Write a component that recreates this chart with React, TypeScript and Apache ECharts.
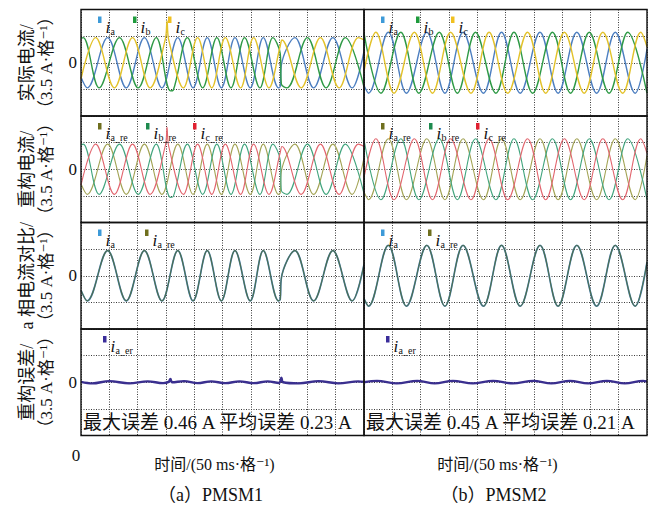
import React, { useEffect, useRef } from "react";
import * as echarts from "echarts";

// ---------------- data (time in ms, current in A) ----------------
const TIME_RANGE_MS = [0, 500];
const TIME_STEP_MS = 50;
const CURRENT_RANGE_A = [-7, 7];
const CURRENT_STEP_A = 3.5;

const rowTitles = ["实际电流/", "重构电流/", "a 相电流对比/", "重构误差/"];
const rowUnit = "（3.5 A·格⁻¹）";
const zeroLabel = "0";
const timeAxisName = "时间/(50 ms·格⁻¹)";
const panelCaptions = ["（a）PMSM1", "（b）PMSM2"];
const errorNotes = ["最大误差 0.46 A 平均误差 0.23 A", "最大误差 0.45 A 平均误差 0.21 A"];

// PMSM1 phase currents (extrema)
const pmsm1Ia = [[0, -1.9], [11, -3.3], [47, 3.3], [80, -3.3], [112, 3.3], [143, -3.3], [171, 3.3], [198, -3.3], [223, 3.3], [248, -3.3], [272, 3.3], [299, -3.3], [322, 3.3], [349, -3.3], [352, -3.1], [354, -0.3], [378, 3.3], [411, -3.3], [445, 3.3], [479, -3.3], [500, 1.5]];
const pmsm1Ib = [[0, 3.2], [4, 3.3], [32, -3.3], [68, 3.3], [101, -3.3], [133, 3.3], [158, -3.7], [163, -3.6], [188, 3.3], [215, -3.3], [240, 3.3], [265, -3.3], [289, 3.3], [316, -3.3], [339, 3.3], [352, 1.2], [354, -2.8], [364, -3.3], [400, 3.3], [433, -3.3], [467, 3.3], [500, -3.2]];
const pmsm1Ic = [[0, -2.1], [26, 3.3], [59, -3.3], [91, 3.3], [122, -3.3], [149, 3.1], [152, 5.5], [155, 3.0], [181, -3.3], [206, 3.3], [231, -3.3], [255, 3.3], [282, -3.3], [305, 3.3], [332, -3.3], [352, 2.2], [355, 3.0], [389, -3.3], [423, 3.3], [456, -3.3], [490, 3.3], [500, 3.0]];
const pmsm1Err = [[0, 0.05], [20, -0.15], [50, 0.15], [85, -0.15], [118, 0.12], [145, -0.12], [155, 0.05], [158, 0.45], [161, 0.0], [182, 0.15], [206, -0.12], [230, 0.12], [255, -0.12], [280, 0.12], [305, -0.12], [330, 0.12], [350, -0.1], [354, 0.6], [357, 0.0], [385, -0.15], [420, 0.15], [455, -0.15], [490, 0.12], [500, 0.05]];

// PMSM2 phase currents
const pmsm2Ia = [[0, -3.0], [8, -4.0], [43, 4.0], [75, -4.0], [111, 4.0], [143, -4.0], [175, 4.0], [211, -4.0], [243, 4.0], [276, -4.0], [311, 4.0], [343, -4.0], [376, 4.0], [411, -4.0], [444, 4.0], [479, -4.0], [500, 1.8]];
const pmsm2Ib = [[0, 3.9], [30, -4.0], [65, 4.0], [97, -4.0], [133, 4.0], [165, -4.0], [197, 4.0], [233, -4.0], [265, 4.0], [298, -4.0], [333, 4.0], [365, -4.0], [398, 4.0], [433, -4.0], [466, 4.0], [500, -4.0]];
const pmsm2Ic = [[0, -1.1], [21, 4.0], [53, -4.0], [89, 4.0], [121, -4.0], [153, 4.0], [189, -4.0], [221, 4.0], [254, -4.0], [289, 4.0], [321, -4.0], [354, 4.0], [389, -4.0], [422, 4.0], [457, -4.0], [489, 4.0], [500, 2.1]];
const pmsm2Err = [[0, 0.0], [23, 0.18], [58, -0.15], [94, 0.18], [125, -0.15], [157, 0.18], [192, -0.15], [228, 0.18], [263, -0.15], [299, 0.18], [331, -0.15], [364, 0.18], [396, -0.15], [429, 0.18], [461, -0.15], [493, 0.18], [500, 0.1]];

// ---------------- layout & style ----------------
const COL_LEFT = [81, 364];
const COL_WIDTH = 283;
const ROW_TOP = [9.5, 116, 222.5, 329];
const ROW_HEIGHT = 106.5;

const SERIF = "'Liberation Serif', 'DejaVu Serif', 'Noto Sans CJK SC', serif";

const C = {
  blue: "#4d7fc0",
  green: "#2f9a46",
  yellow: "#e3c22b",
  oliveRe: "#a3a456",
  greenRe: "#42a57e",
  redRe: "#e2666f",
  row3Blue: "#4f86bf",
  row3Olive: "#4a6a3c",
  err: "#3a2f8f",
  mBlue: "#3d9ad8",
  mGreen: "#1e9a3c",
  mYellow: "#f0c020",
  mOlive: "#6f6f1e",
  mGreenRe: "#1d8a4e",
  mRed: "#e02030",
  mPurple: "#3a2d9a",
};

type Legend = { color: string; sub: string; dx: number };
const legendRows: Legend[][] = [
  [{ color: C.mBlue, sub: "a", dx: 17 }, { color: C.mGreen, sub: "b", dx: 52 }, { color: C.mYellow, sub: "c", dx: 87 }],
  [{ color: C.mOlive, sub: "a_re", dx: 17 }, { color: C.mGreenRe, sub: "b_re", dx: 65 }, { color: C.mRed, sub: "c_re", dx: 112 }],
  [{ color: C.mBlue, sub: "a", dx: 17 }, { color: C.mOlive, sub: "a_re", dx: 64 }],
  [{ color: C.mPurple, sub: "a_er", dx: 22 }],
];

function textEl(x: number, y: number, text: string, size: number, align: string, vAlign: string, extra: any = {}) {
  return {
    type: "text",
    x,
    y,
    silent: true,
    ...extra,
    style: {
      text,
      fontSize: size,
      fontFamily: SERIF,
      fill: "#111",
      align,
      verticalAlign: vAlign,
      textAlign: align,
      textVerticalAlign: vAlign,
      ...(extra.style || {}),
    },
  };
}

function buildOption() {
  const grids: any[] = [];
  const xAxes: any[] = [];
  const yAxes: any[] = [];
  const series: any[] = [];
  const splitStyle = { show: true, lineStyle: { color: "#3a3a3a", width: 1, type: [1, 1.5] } };

  const panelData = [
    { ia: pmsm1Ia, ib: pmsm1Ib, ic: pmsm1Ic, err: pmsm1Err },
    { ia: pmsm2Ia, ib: pmsm2Ib, ic: pmsm2Ic, err: pmsm2Err },
  ];

  const line = (gi: number, data: number[][], color: string, width: number, z = 2, opacity = 1) => ({
    type: "line",
    xAxisIndex: gi,
    yAxisIndex: gi,
    data,
    showSymbol: false,
    symbol: "none",
    smooth: 0.36,
    silent: true,
    z,
    lineStyle: { color, width, opacity },
  });

  for (let r = 0; r < 4; r++) {
    for (let p = 0; p < 2; p++) {
      const gi = r * 2 + p;
      grids.push({
        left: COL_LEFT[p],
        top: ROW_TOP[r],
        width: COL_WIDTH,
        height: ROW_HEIGHT,
        show: true,
        borderColor: "#111",
        borderWidth: 1.4,
        backgroundColor: "transparent",
        z: 5,
      });
      xAxes.push({
        type: "value",
        gridIndex: gi,
        min: TIME_RANGE_MS[0],
        max: TIME_RANGE_MS[1],
        interval: TIME_STEP_MS,
        axisLine: { show: false },
        axisTick: { show: false },
        axisLabel: { show: false },
        splitLine: splitStyle,
      });
      yAxes.push({
        type: "value",
        gridIndex: gi,
        min: CURRENT_RANGE_A[0],
        max: CURRENT_RANGE_A[1],
        interval: CURRENT_STEP_A,
        axisLine: { show: false },
        axisTick: { show: false },
        axisLabel: { show: false },
        splitLine: splitStyle,
      });
      const d = panelData[p];
      if (r === 0) {
        series.push(line(gi, d.ia, C.blue, 1.4));
        series.push(line(gi, d.ib, C.green, 1.4));
        series.push(line(gi, d.ic, C.yellow, 1.4));
      } else if (r === 1) {
        series.push(line(gi, d.ia, C.oliveRe, 1.1));
        series.push(line(gi, d.ib, C.greenRe, 1.1));
        series.push(line(gi, d.ic, C.redRe, 1.1));
      } else if (r === 2) {
        series.push(line(gi, d.ia, C.row3Blue, 1.7));
        series.push(line(gi, d.ia, C.row3Olive, 1.1, 3, 0.85));
      } else {
        series.push(line(gi, d.err, C.err, 2.4));
      }
    }
  }

  const graphic: any[] = [];
  for (let r = 0; r < 4; r++) {
    const cy = ROW_TOP[r] + ROW_HEIGHT / 2;
    graphic.push(textEl(27, cy, rowTitles[r], 18, "center", "middle", { rotation: Math.PI / 2 }));
    graphic.push(textEl(46, cy, rowUnit, 17, "center", "middle", { rotation: Math.PI / 2 }));
    graphic.push(textEl(77, cy, zeroLabel, 17, "right", "middle"));
    for (let p = 0; p < 2; p++) {
      const L = COL_LEFT[p];
      const T = ROW_TOP[r];
      for (const lg of legendRows[r]) {
        graphic.push({
          type: "rect",
          silent: true,
          z: 10,
          shape: { x: L + lg.dx, y: T + 7, width: 3.5, height: 6.5 },
          style: { fill: lg.color },
        });
        graphic.push(textEl(L + lg.dx + 7.5, T + 17.5, "i", 17, "left", "middle", { z: 10, style: { fontStyle: "italic" } }));
        graphic.push(textEl(L + lg.dx + 12.5, T + 21.5, lg.sub, 10, "left", "middle", { z: 10 }));
      }
    }
  }
  for (let p = 0; p < 2; p++) {
    graphic.push(textEl(COL_LEFT[p] + 2, 422, errorNotes[p], 19, "left", "middle", { z: 10 }));
    const cx = COL_LEFT[p] + COL_WIDTH / 2;
    graphic.push(textEl(cx - 8, 464, timeAxisName, 16, "center", "middle"));
    graphic.push(textEl(cx - 12, 495, panelCaptions[p], 18, "center", "middle"));
  }
  graphic.push(textEl(76, 455, zeroLabel, 17, "center", "middle"));

  return {
    animation: false,
    backgroundColor: "#ffffff",
    grid: grids,
    xAxis: xAxes,
    yAxis: yAxes,
    series,
    graphic,
  };
}

export default function App() {
  const ref = useRef<HTMLDivElement>(null);
  useEffect(() => {
    if (!ref.current) return;
    const chart = echarts.init(ref.current, null, { renderer: "svg" });
    chart.setOption(buildOption() as any);
    return () => chart.dispose();
  }, []);
  return <div ref={ref} style={{ position: "absolute", left: 0, top: 0, width: 656, height: 518 }} />;
}
